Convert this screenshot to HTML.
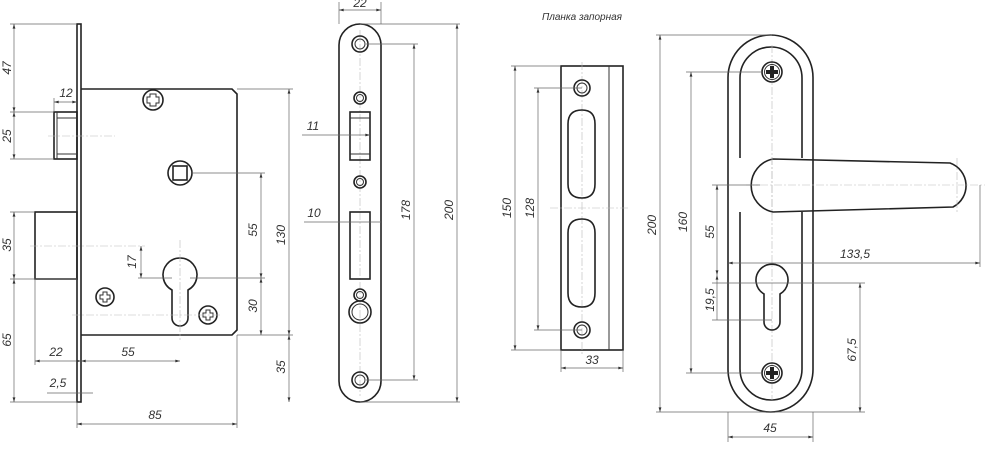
<!DOCTYPE html>
<html><head><meta charset="utf-8"><style>
html,body{margin:0;padding:0;background:#fff;}
svg{display:block;}
text{font-family:"Liberation Sans",sans-serif;font-style:italic;font-size:12px;fill:#333;}
.o{fill:none;stroke:#222;stroke-width:1.6;}
.t{fill:none;stroke:#333;stroke-width:1;}
.d{fill:none;stroke:#666;stroke-width:0.7;}
.c{fill:none;stroke:#bbb;stroke-width:0.6;stroke-dasharray:8 2 2 2;}
</style></head><body>
<svg width="988" height="456" viewBox="0 0 988 456" xmlns="http://www.w3.org/2000/svg">
<defs>
<marker id="a" viewBox="0 0 10 6" refX="10" refY="3" markerWidth="9" markerHeight="4" orient="auto-start-reverse"><path d="M0,0 L10,3 L0,6z" fill="#333"/></marker>
</defs>

<!-- ===== VIEW 1: lock body ===== -->
<rect x="77" y="24" width="4" height="378" class="o"/>
<path d="M81,89 H232 L237,94 V330 L232,335 H81" class="o"/>
<rect x="54" y="112" width="23" height="47" class="o"/>
<line x1="57" y1="118" x2="77" y2="118" class="t"/><line x1="57" y1="154" x2="77" y2="154" class="t"/>
<line x1="57" y1="112" x2="57" y2="159" class="t"/>
<rect x="35" y="212" width="42" height="67" class="o"/>
<circle cx="153" cy="100" r="10" class="o"/>
<path d="M150,94h6v3h3v6h-3v3h-6v-3h-3v-6h3z" class="t"/>
<circle cx="180" cy="173" r="12" class="o"/>
<rect x="173" y="166" width="14" height="14" class="o"/>
<path d="M172,290 A17,17 0 1 1 188,290 V318 A8,8 0 0 1 172,318 Z" class="o"/>
<circle cx="105" cy="297" r="9" class="o"/>
<path d="M103,292h4v3h3v4h-3v3h-4v-3h-3v-4h3z" class="t"/>
<circle cx="208" cy="315" r="9" class="o"/>
<path d="M206,310h4v3h3v4h-3v3h-4v-3h-3v-4h3z" class="t"/>
<line x1="48" y1="136" x2="115" y2="136" class="c"/>
<line x1="30" y1="246" x2="145" y2="246" class="c"/>
<line x1="72" y1="315" x2="220" y2="315" class="c"/>
<line x1="180" y1="240" x2="180" y2="340" class="c"/>
<!-- dims left -->
<line x1="10" y1="24" x2="77" y2="24" class="d"/>
<line x1="10" y1="112" x2="54" y2="112" class="d"/>
<line x1="10" y1="159" x2="54" y2="159" class="d"/>
<line x1="10" y1="212" x2="35" y2="212" class="d"/>
<line x1="10" y1="279" x2="77" y2="279" class="d"/>
<line x1="10" y1="402" x2="77" y2="402" class="d"/>
<line x1="14" y1="24" x2="14" y2="112" class="d" marker-start="url(#a)" marker-end="url(#a)"/>
<line x1="14" y1="112" x2="14" y2="159" class="d" marker-start="url(#a)" marker-end="url(#a)"/>
<line x1="14" y1="212" x2="14" y2="279" class="d" marker-start="url(#a)" marker-end="url(#a)"/>
<line x1="14" y1="279" x2="14" y2="402" class="d" marker-start="url(#a)" marker-end="url(#a)"/>
<text transform="translate(11,68) rotate(-90)" text-anchor="middle">47</text>
<text transform="translate(11,136) rotate(-90)" text-anchor="middle">25</text>
<text transform="translate(11,245) rotate(-90)" text-anchor="middle">35</text>
<text transform="translate(11,340) rotate(-90)" text-anchor="middle">65</text>
<line x1="54" y1="98" x2="54" y2="112" class="d"/>
<line x1="54" y1="102" x2="77" y2="102" class="d" marker-start="url(#a)" marker-end="url(#a)"/>
<text x="66" y="97" text-anchor="middle">12</text>
<line x1="141" y1="246" x2="141" y2="278" class="d" marker-start="url(#a)" marker-end="url(#a)"/>
<line x1="138" y1="278" x2="172" y2="278" class="d"/>
<text transform="translate(136,262) rotate(-90)" text-anchor="middle">17</text>
<line x1="35" y1="279" x2="35" y2="365" class="d"/>
<line x1="35" y1="361" x2="81" y2="361" class="d" marker-start="url(#a)" marker-end="url(#a)"/>
<line x1="81" y1="361" x2="180" y2="361" class="d" marker-start="url(#a)" marker-end="url(#a)"/>
<text x="56" y="356" text-anchor="middle">22</text>
<text x="128" y="356" text-anchor="middle">55</text>
<line x1="47" y1="393" x2="93" y2="393" class="d"/>
<text x="58" y="387" text-anchor="middle">2,5</text>
<line x1="77" y1="402" x2="77" y2="428" class="d"/>
<line x1="237" y1="335" x2="237" y2="428" class="d"/>
<line x1="77" y1="424" x2="237" y2="424" class="d" marker-start="url(#a)" marker-end="url(#a)"/>
<text x="155" y="419" text-anchor="middle">85</text>
<!-- dims right -->
<line x1="237" y1="89" x2="293" y2="89" class="d"/>
<line x1="192" y1="173" x2="265" y2="173" class="d"/>
<line x1="190" y1="278" x2="265" y2="278" class="d"/>
<line x1="237" y1="335" x2="293" y2="335" class="d"/>
<line x1="261" y1="173" x2="261" y2="278" class="d" marker-start="url(#a)" marker-end="url(#a)"/>
<line x1="261" y1="278" x2="261" y2="335" class="d" marker-start="url(#a)" marker-end="url(#a)"/>
<line x1="289" y1="89" x2="289" y2="335" class="d" marker-start="url(#a)" marker-end="url(#a)"/>
<line x1="289" y1="335" x2="289" y2="402" class="d" marker-start="url(#a)" marker-end="url(#a)"/>
<text transform="translate(257,230) rotate(-90)" text-anchor="middle">55</text>
<text transform="translate(257,306) rotate(-90)" text-anchor="middle">30</text>
<text transform="translate(285,235) rotate(-90)" text-anchor="middle">130</text>
<text transform="translate(285,367) rotate(-90)" text-anchor="middle">35</text>

<!-- ===== VIEW 2: faceplate ===== -->
<rect x="339" y="24" width="42" height="378" rx="21" class="o"/>
<line x1="360" y1="30" x2="360" y2="396" class="c"/>
<circle cx="360" cy="44" r="8" class="o"/><circle cx="360" cy="44" r="5" class="t"/>
<circle cx="360" cy="380" r="8" class="o"/><circle cx="360" cy="380" r="5" class="t"/>
<circle cx="360" cy="98" r="6" class="o"/><circle cx="360" cy="98" r="3.5" class="t"/>
<circle cx="360" cy="182" r="6" class="o"/><circle cx="360" cy="182" r="3.5" class="t"/>
<circle cx="360" cy="295" r="6" class="o"/><circle cx="360" cy="295" r="3.5" class="t"/>
<circle cx="360" cy="312" r="11" class="o"/><circle cx="360" cy="312" r="8" class="t"/>
<rect x="350" y="112" width="20" height="48" class="o"/>
<line x1="350" y1="118" x2="370" y2="118" class="t"/><line x1="350" y1="154" x2="370" y2="154" class="t"/>
<rect x="350" y="212" width="20" height="67" class="o"/>
<line x1="339" y1="2" x2="339" y2="24" class="d"/><line x1="381" y1="2" x2="381" y2="24" class="d"/>
<line x1="339" y1="10" x2="381" y2="10" class="d" marker-start="url(#a)" marker-end="url(#a)"/>
<text x="360" y="7" text-anchor="middle">22</text>
<line x1="302" y1="135" x2="370" y2="135" class="d" marker-end="url(#a)"/>
<text x="313" y="130" text-anchor="middle">11</text>
<line x1="304" y1="222" x2="381" y2="222" class="d"/>
<text x="314" y="217" text-anchor="middle">10</text>
<line x1="366" y1="44" x2="418" y2="44" class="d"/>
<line x1="366" y1="380" x2="418" y2="380" class="d"/>
<line x1="414" y1="44" x2="414" y2="380" class="d" marker-start="url(#a)" marker-end="url(#a)"/>
<text transform="translate(410,210) rotate(-90)" text-anchor="middle">178</text>
<line x1="360" y1="24" x2="460" y2="24" class="d"/>
<line x1="360" y1="402" x2="460" y2="402" class="d"/>
<line x1="457" y1="24" x2="457" y2="402" class="d" marker-start="url(#a)" marker-end="url(#a)"/>
<text transform="translate(453,210) rotate(-90)" text-anchor="middle">200</text>

<!-- ===== VIEW 3: strike plate ===== -->
<text x="582" y="20" text-anchor="middle" style="font-size:10px">Планка запорная</text>
<rect x="561" y="66" width="62" height="284" class="o"/>
<line x1="609" y1="66" x2="609" y2="350" class="t"/>
<line x1="582" y1="62" x2="582" y2="355" class="c"/>
<line x1="550" y1="208" x2="628" y2="208" class="c"/>
<circle cx="582" cy="88" r="8" class="o"/><circle cx="582" cy="88" r="5" class="t"/>
<circle cx="582" cy="330" r="8" class="o"/><circle cx="582" cy="330" r="5" class="t"/>
<path d="M568,124 Q568,110 582,110 Q595,110 595,124 V184 Q595,198 582,198 Q568,198 568,184 Z" class="o"/>
<path d="M568,233 Q568,219 582,219 Q595,219 595,233 V293 Q595,307 582,307 Q568,307 568,293 Z" class="o"/>
<line x1="511" y1="66" x2="561" y2="66" class="d"/>
<line x1="511" y1="350" x2="561" y2="350" class="d"/>
<line x1="534" y1="88" x2="582" y2="88" class="d"/>
<line x1="534" y1="330" x2="582" y2="330" class="d"/>
<line x1="515" y1="66" x2="515" y2="350" class="d" marker-start="url(#a)" marker-end="url(#a)"/>
<line x1="538" y1="88" x2="538" y2="330" class="d" marker-start="url(#a)" marker-end="url(#a)"/>
<text transform="translate(511,208) rotate(-90)" text-anchor="middle">150</text>
<text transform="translate(534,208) rotate(-90)" text-anchor="middle">128</text>
<line x1="561" y1="350" x2="561" y2="372" class="d"/><line x1="623" y1="350" x2="623" y2="372" class="d"/>
<line x1="561" y1="368" x2="623" y2="368" class="d" marker-start="url(#a)" marker-end="url(#a)"/>
<text x="592" y="364" text-anchor="middle">33</text>

<!-- ===== VIEW 4: handle ===== -->
<rect x="728" y="35" width="85" height="377" rx="42.5" class="o"/>
<path d="M740,78 A31,31 0 0 1 802,78 V158 M802,212 V369 A31,31 0 0 1 740,369 V212 M740,158 V78" class="o"/>
<line x1="772" y1="45" x2="772" y2="400" class="c"/>
<circle cx="772" cy="72" r="10" class="o"/><circle cx="772" cy="72" r="7.5" class="t"/>
<path d="M770,66h4v4h4v4h-4v4h-4v-4h-4v-4h4z" fill="#222"/>
<circle cx="772" cy="373" r="10" class="o"/><circle cx="772" cy="373" r="7.5" class="t"/>
<path d="M770,367h4v4h4v4h-4v4h-4v-4h-4v-4h4z" fill="#222"/>
<path d="M773,159 L950,163 A24,24 0 0 1 953,207 L773,212 A27,27 0 0 1 773,159 Z" class="o" fill="#fff"/>
<line x1="746" y1="185" x2="985" y2="185" class="c"/>
<line x1="772" y1="157" x2="772" y2="215" class="c"/>
<line x1="957" y1="158" x2="957" y2="212" class="c"/>
<path d="M764,294 A16,16 0 1 1 780,294 V322 A8,8 0 0 1 764,322 Z" class="o"/>
<line x1="656" y1="35" x2="772" y2="35" class="d"/>
<line x1="656" y1="412" x2="865" y2="412" class="d"/>
<line x1="660" y1="35" x2="660" y2="412" class="d" marker-start="url(#a)" marker-end="url(#a)"/>
<text transform="translate(656,225) rotate(-90)" text-anchor="middle">200</text>
<line x1="686" y1="72" x2="762" y2="72" class="d"/>
<line x1="686" y1="373" x2="762" y2="373" class="d"/>
<line x1="691" y1="72" x2="691" y2="373" class="d" marker-start="url(#a)" marker-end="url(#a)"/>
<text transform="translate(687,222) rotate(-90)" text-anchor="middle">160</text>
<line x1="712" y1="185" x2="760" y2="185" class="d"/>
<line x1="712" y1="283" x2="865" y2="283" class="d"/>
<line x1="712" y1="320" x2="772" y2="320" class="d"/>
<line x1="717" y1="185" x2="717" y2="275" class="d" marker-start="url(#a)" marker-end="url(#a)"/>
<line x1="717" y1="275" x2="717" y2="320" class="d" marker-start="url(#a)"/>
<text transform="translate(714,232) rotate(-90)" text-anchor="middle">55</text>
<text transform="translate(714,300) rotate(-90)" text-anchor="middle">19,5</text>
<line x1="860" y1="283" x2="860" y2="412" class="d" marker-start="url(#a)" marker-end="url(#a)"/>
<text transform="translate(856,350) rotate(-90)" text-anchor="middle">67,5</text>
<line x1="980" y1="185" x2="980" y2="267" class="d"/>
<line x1="728" y1="263" x2="980" y2="263" class="d" marker-start="url(#a)" marker-end="url(#a)"/>
<text x="855" y="258" text-anchor="middle">133,5</text>
<line x1="728" y1="412" x2="728" y2="442" class="d"/><line x1="813" y1="412" x2="813" y2="442" class="d"/>
<line x1="728" y1="437" x2="813" y2="437" class="d" marker-start="url(#a)" marker-end="url(#a)"/>
<text x="770" y="432" text-anchor="middle">45</text>
</svg>
</body></html>
